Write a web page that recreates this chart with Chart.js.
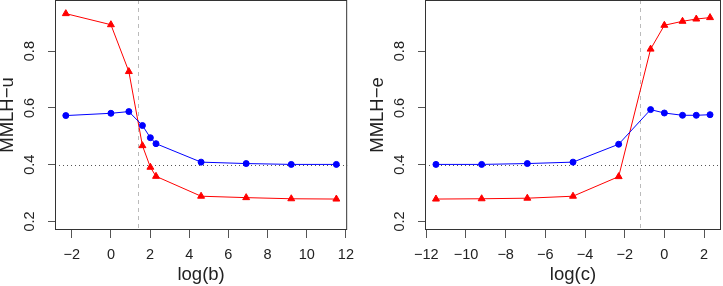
<!DOCTYPE html>
<html>
<head>
<meta charset="utf-8">
<script src="https://cdn.jsdelivr.net/npm/chart.js@4.4.1/dist/chart.umd.min.js"></script>
<style>
  body { margin: 0; background: #fff; width: 723px; height: 286px; position: relative; overflow: hidden; }
  canvas { position: absolute; top: 0; }
</style>
</head>
<body>
<canvas id="panelB" width="362" height="286" style="left:0"></canvas>
<canvas id="panelC" width="353" height="286" style="left:370px"></canvas>
<script>
// log(b) panel
const bX    = [-2.303, 0, 0.916, 1.609, 2.015, 2.303, 4.605, 6.908, 9.210, 11.513];
const bRed  = [0.932, 0.893, 0.728, 0.467, 0.391, 0.359, 0.289, 0.284, 0.280, 0.279];
const bBlue = [0.573, 0.581, 0.587, 0.538, 0.495, 0.474, 0.409, 0.404, 0.401, 0.401];
const bTicks = [-2, 0, 2, 4, 6, 8, 10, 12];
const bCut = 1.386;

// log(c) panel
const cX    = [-11.513, -9.210, -6.908, -4.605, -2.303, -0.693, 0, 0.916, 1.609, 2.303];
const cRed  = [0.279, 0.280, 0.282, 0.289, 0.358, 0.807, 0.891, 0.905, 0.913, 0.918];
const cBlue = [0.401, 0.401, 0.404, 0.409, 0.472, 0.594, 0.582, 0.574, 0.574, 0.576];
const cTicks = [-12, -10, -8, -6, -4, -2, 0, 2];
const cCut = -1.204;

const yTicks = [0.2, 0.4, 0.6, 0.8];
const yLim = [0.2, 0.95];
const yRef = 0.4;

const minus = v => String(v).replace('-', '\u2212');
// R pads axis ranges by 4% on each side
const pad = (lo, hi) => [lo - 0.04 * (hi - lo), hi + 0.04 * (hi - lo)];

const rStyle = {
  id: 'rStyle',
  beforeDatasetsDraw(chart, args, opts) {
    const { ctx, chartArea: a, scales: { x, y } } = chart;
    ctx.save();
    ctx.lineWidth = 1;
    // dotted horizontal reference
    ctx.strokeStyle = '#555';
    ctx.setLineDash([1, 3]);
    const py = Math.round(y.getPixelForValue(opts.yRef)) + 0.5;
    ctx.beginPath(); ctx.moveTo(a.left, py); ctx.lineTo(a.right, py); ctx.stroke();
    // dashed vertical cut
    ctx.strokeStyle = '#bbb';
    ctx.setLineDash([4, 4]);
    const px = Math.round(x.getPixelForValue(opts.xCut)) + 0.5;
    ctx.beginPath(); ctx.moveTo(px, a.top); ctx.lineTo(px, a.bottom); ctx.stroke();
    ctx.restore();
  },
  afterDraw(chart) {
    const { ctx, chartArea: a, scales: { y } } = chart;
    ctx.save();
    ctx.strokeStyle = '#333';
    ctx.lineWidth = 1;
    ctx.strokeRect(a.left + 0.5, a.top + 0.5, a.right - a.left - 1, a.bottom - a.top - 1);
    // rotated y tick labels, R style
    ctx.fillStyle = '#222';
    ctx.font = '14.5px "Liberation Sans", Arial, sans-serif';
    ctx.textAlign = 'center';
    ctx.textBaseline = 'middle';
    yTicks.forEach(v => {
      ctx.save();
      ctx.translate(a.left - 25, y.getPixelForValue(v));
      ctx.rotate(-Math.PI / 2);
      ctx.fillText(v.toFixed(1), 0, 0);
      ctx.restore();
    });
    ctx.restore();
  }
};

function makePanel(id, xs, red, blue, ticks, cut, xTitle, yTitle, padRight) {
  const pts = ys => xs.map((x, i) => ({ x: x, y: ys[i] }));
  const xLim = pad(Math.min(...xs), Math.max(...xs));
  const yR = pad(yLim[0], yLim[1]);
  new Chart(document.getElementById(id), {
    type: 'scatter',
    data: {
      datasets: [{
        data: pts(blue),
        showLine: true,
        borderColor: '#0000ff',
        backgroundColor: '#0000ff',
        borderWidth: 1,
        pointStyle: 'circle',
        pointRadius: 3,
        pointBorderWidth: 1
      }, {
        data: pts(red),
        showLine: true,
        borderColor: '#ff0000',
        backgroundColor: '#ff0000',
        borderWidth: 1,
        pointStyle: 'triangle',
        pointRadius: 4,
        pointBorderWidth: 1
      }]
    },
    options: {
      responsive: false,
      animation: false,
      layout: { autoPadding: false, padding: { left: 0, top: 0, right: padRight, bottom: 0 } },
      plugins: {
        legend: { display: false },
        tooltip: { enabled: false },
        rStyle: { xCut: cut, yRef: yRef }
      },
      scales: {
        x: {
          type: 'linear',
          min: xLim[0],
          max: xLim[1],
          afterBuildTicks: s => { s.ticks = ticks.map(v => ({ value: v })); },
          afterFit: s => { s.height = 56; },
          border: { display: false },
          grid: { drawOnChartArea: false, drawTicks: true, tickLength: 8, color: '#555' },
          ticks: {
            padding: 8,
            color: '#222',
            font: { family: '"Liberation Sans", Arial, sans-serif', size: 14.5 },
            maxRotation: 0,
            callback: v => minus(v)
          },
          title: {
            display: true,
            text: xTitle,
            color: '#222',
            font: { family: '"Liberation Sans", Arial, sans-serif', size: 18.5, lineHeight: 1 },
            padding: { top: 0, bottom: 2 }
          }
        },
        y: {
          min: yR[0],
          max: yR[1],
          afterBuildTicks: s => { s.ticks = yTicks.map(v => ({ value: v })); },
          afterFit: s => { s.width = 55; },
          border: { display: false },
          grid: { drawOnChartArea: false, drawTicks: true, tickLength: 7, color: '#555' },
          ticks: { display: false },
          title: {
            display: true,
            text: yTitle,
            color: '#222',
            font: { family: '"Liberation Sans", Arial, sans-serif', size: 18.5, lineHeight: 1 },
            padding: { top: -1, bottom: 0 }
          }
        }
      }
    },
    plugins: [rStyle]
  });
}

makePanel('panelB', bX, bRed, bBlue, bTicks, bCut, 'log(b)', 'MMLH\u2212u', 10);
makePanel('panelC', cX, cRed, cBlue, cTicks, cCut, 'log(c)', 'MMLH\u2212e', 2);
</script>
</body>
</html>
